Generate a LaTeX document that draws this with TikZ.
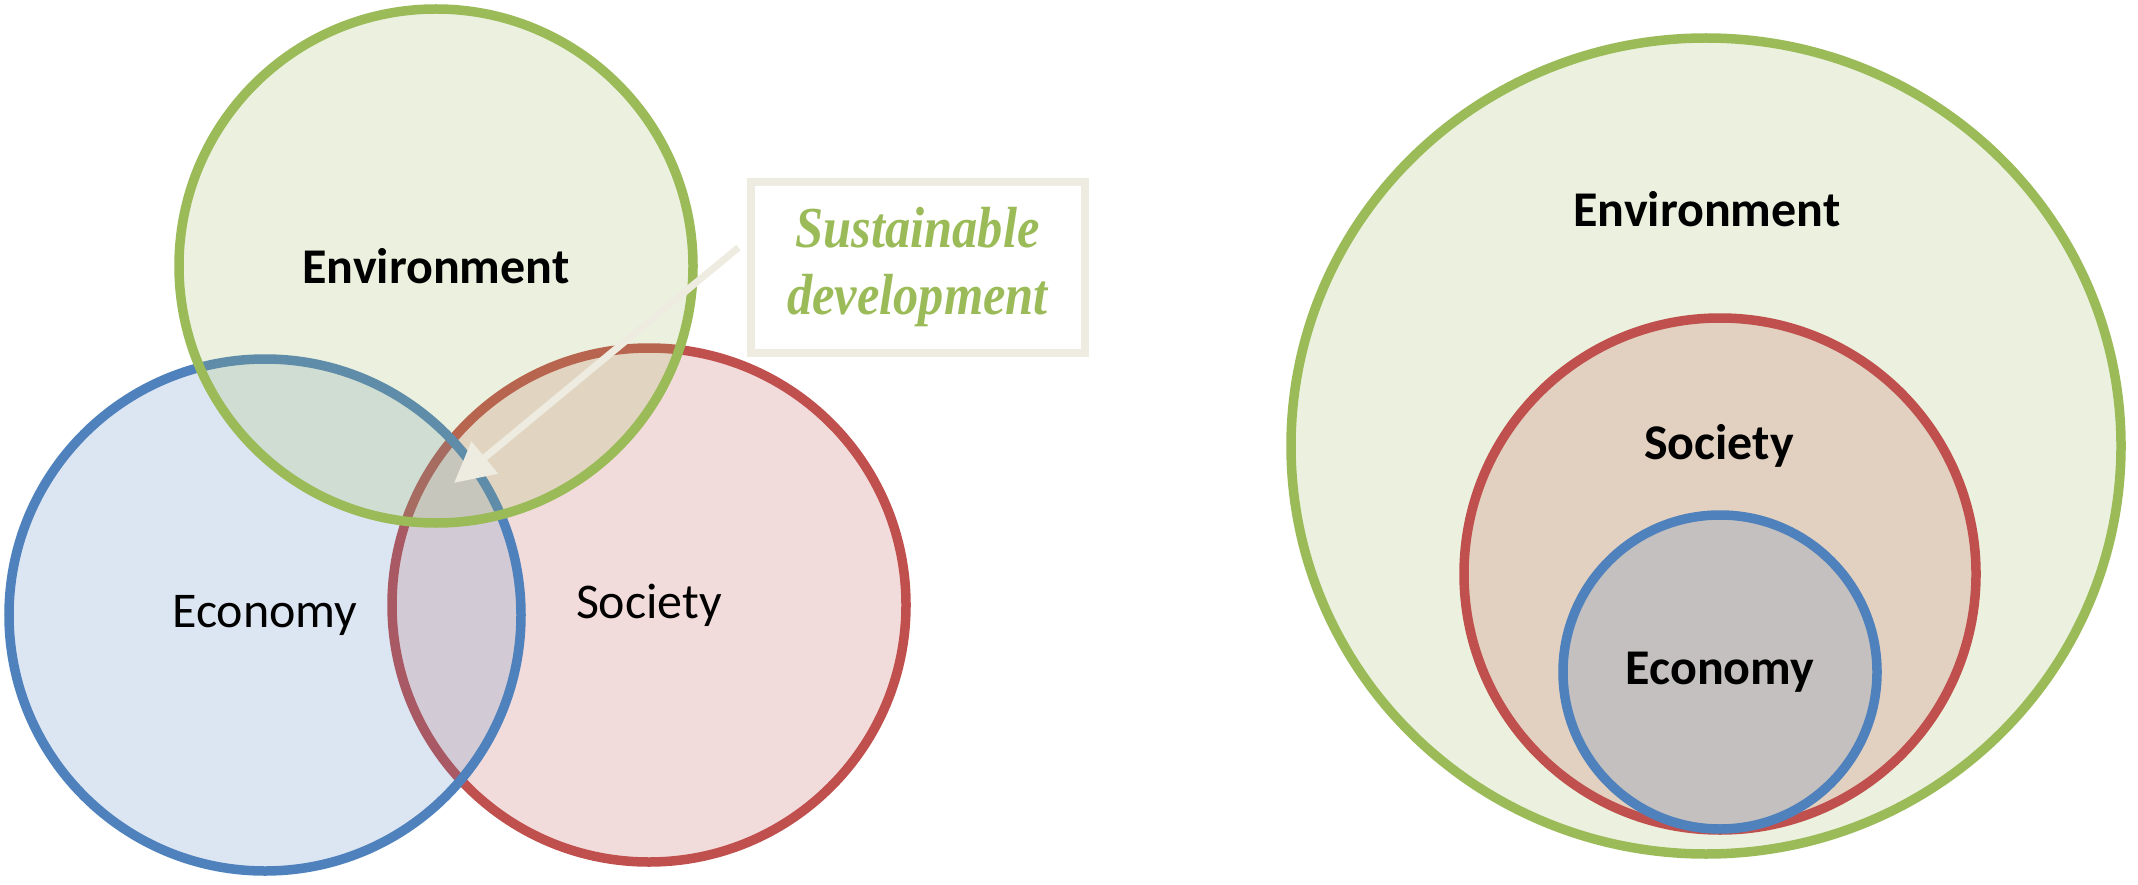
\documentclass[tikz,border=0pt]{standalone}
\usepackage{fontspec}
\setmainfont{Carlito}
\newfontfamily\sdfont[FakeStretch=0.87]{Liberation Serif Bold Italic}
\usepackage{tikz}
\usetikzlibrary{shapes.geometric}
\usetikzlibrary{arrows.meta}
\definecolor{envgreen}{HTML}{9BBB59}
\definecolor{ecoblue}{HTML}{4F81BD}
\definecolor{socred}{HTML}{C0504D}
\definecolor{callout}{HTML}{EEECE1}
\tikzset{
    sphere/.style={line width=9.5pt, fill opacity=0.2, text opacity=1, inner sep=0pt, font=\fontsize{50}{60}\selectfont},
    big/.style={font=\fontsize{50}{60}\selectfont\bfseries}}

\begin{document}
\begin{tikzpicture}[x=1pt, y=-1pt]
            \useasboundingbox (0,0) rectangle (2138,885);

                    \node[sphere, shape=circle, draw=socred, fill=socred, minimum size=514pt] (S) at (649,605) {Society};
                    \node[sphere, shape=circle, draw=ecoblue, fill=ecoblue, minimum size=512pt] (C) at (265,615) {Economy};
                    \node[sphere, shape=circle, draw=envgreen, fill=envgreen, minimum size=514pt, font=\fontsize{50}{60}\selectfont\bfseries] (E) at (436,266) {Environment};

                    \node[shape=rectangle, draw=callout, line width=8pt, minimum width=334pt, minimum height=170pt, align=center, text=envgreen, font=\fontsize{58}{67}\selectfont\sdfont] (SD) at (917.5,267.5) {Sustainable\\development};
                    \coordinate (SDtip) at (454,483);
                    \draw[callout, line width=7pt, -{Triangle[length=40pt, width=40pt]}] ([xshift=-8pt, yshift=20pt]SD.west) -- (SDtip);

                    \node[sphere, shape=ellipse, draw=envgreen, fill=envgreen, minimum width=830pt, minimum height=816pt] (E2) at (1706,446) {};
                    \node[sphere, shape=circle, draw=socred, fill=socred, minimum size=512pt] (S2) at (1720,574) {};
                    \node[sphere, shape=circle, draw=ecoblue, fill=ecoblue, minimum size=314pt, font=\fontsize{50}{60}\selectfont\bfseries] (C2) at (1720,672) {Economy};
                    \node[big] (E2label) at (1707,209) {Environment};
                    \node[big] (S2label) at (1719,446) {Society};

                \end{tikzpicture}
\end{document}
